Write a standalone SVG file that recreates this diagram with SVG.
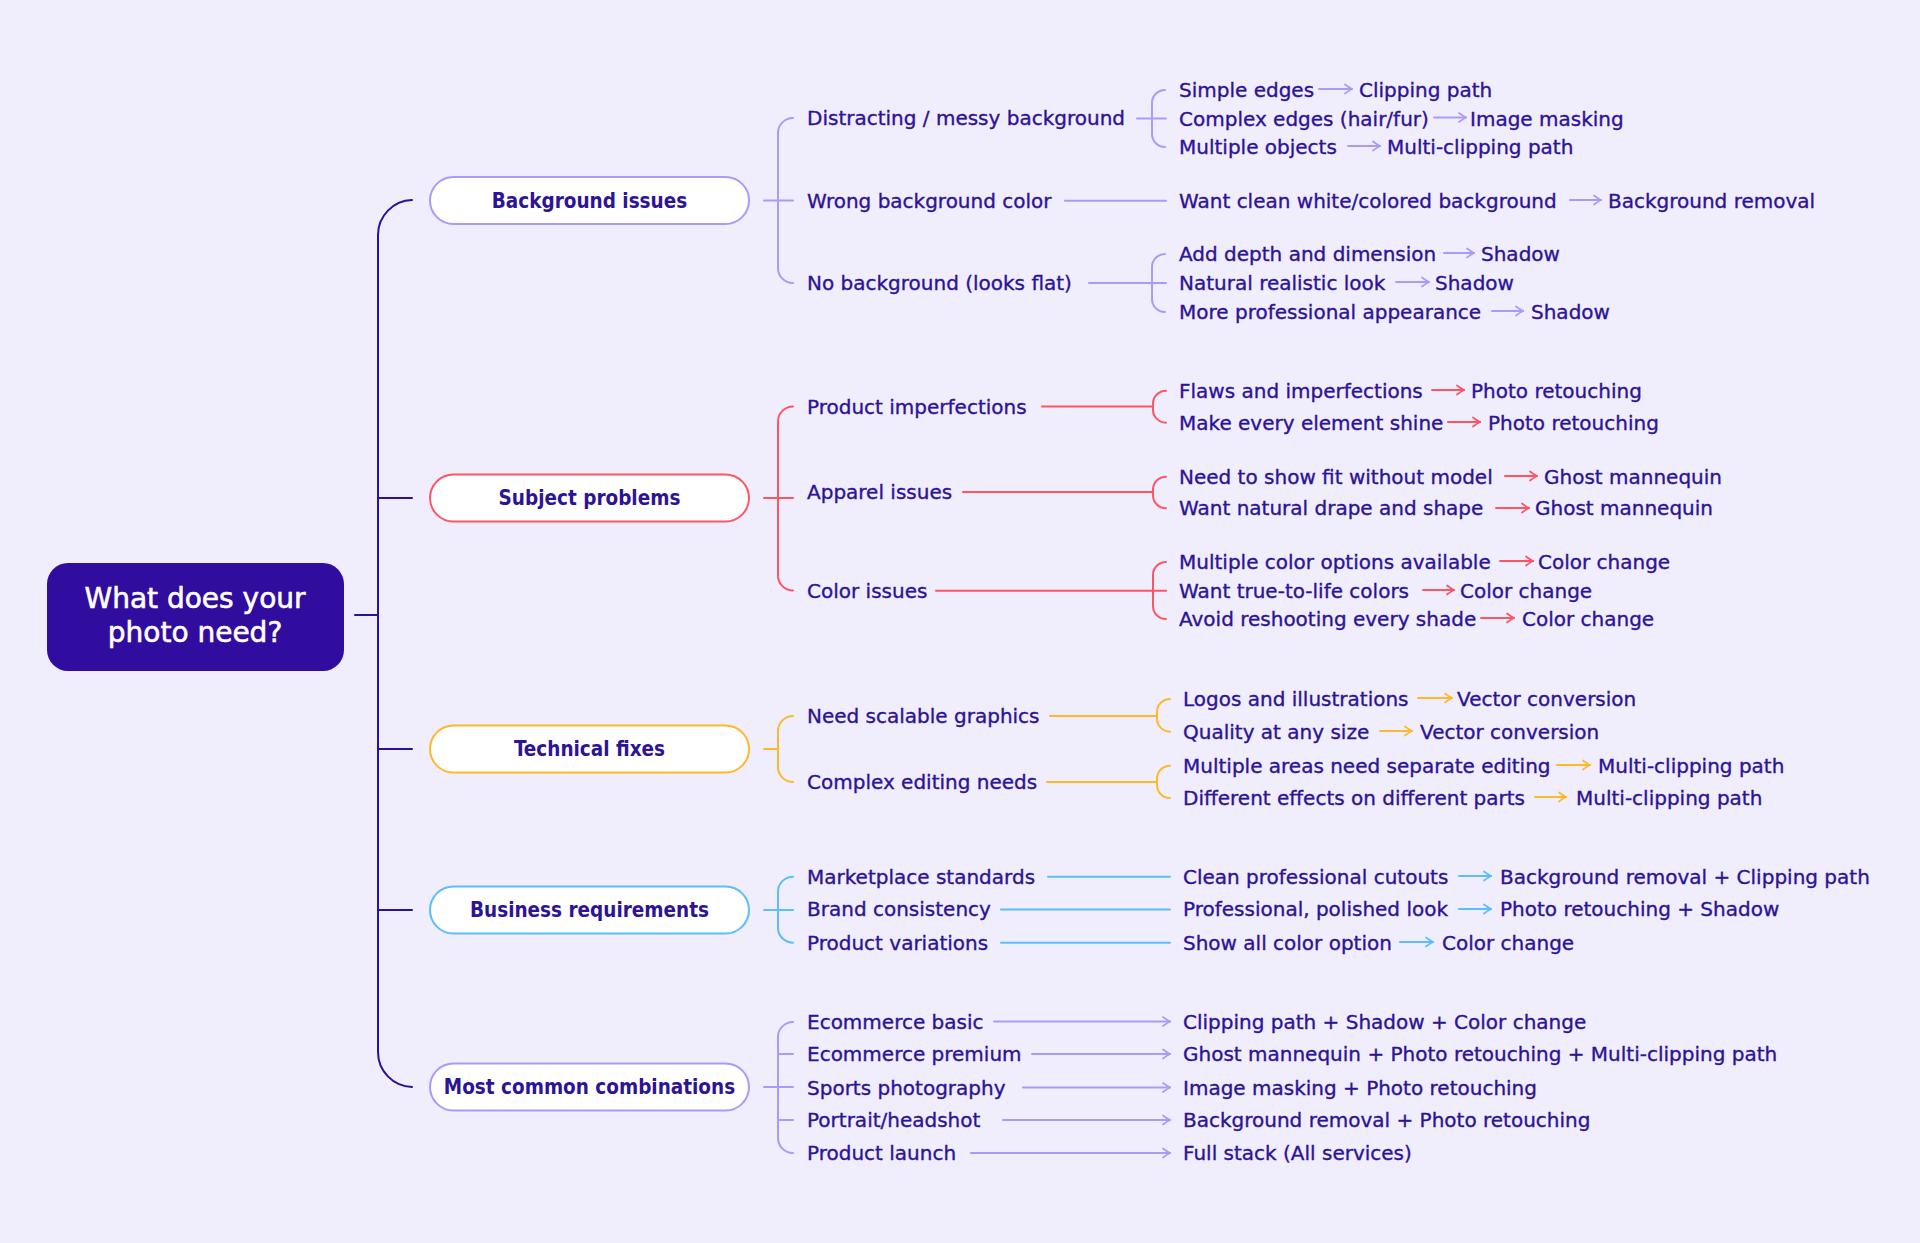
<svg xmlns="http://www.w3.org/2000/svg" width="1920" height="1243" viewBox="0 0 1920 1243">
<style>
.t{font-family:"DejaVu Sans","Liberation Sans",sans-serif;font-size:20px;fill:#2D1396;stroke:#2D1396;stroke-width:0.35}
.n{font-family:"DejaVu Sans Condensed","DejaVu Sans","Liberation Sans",sans-serif;font-size:20.5px;font-weight:bold;fill:#2D1396;text-anchor:middle}
.r{font-family:"DejaVu Sans","Liberation Sans",sans-serif;font-size:28px;fill:#FFFFFF;text-anchor:middle;stroke:#FFFFFF;stroke-width:0.6}
.c{fill:none;stroke-width:2;stroke-linecap:round}
.lav{stroke:#A99BF7}.red{stroke:#FF5462}.yel{stroke:#FDB92B}.blu{stroke:#5CBEF8}.dk{stroke:#2E0F99}
.pill{fill:#FFFFFF;stroke-width:2}
.al{marker-end:url(#ah-lav)}.ar{marker-end:url(#ah-red)}.ay{marker-end:url(#ah-yel)}.ab{marker-end:url(#ah-blu)}
</style>
<defs>
<marker id="ah-lav" viewBox="0 0 10 12" refX="9" refY="6" markerWidth="10" markerHeight="12" markerUnits="userSpaceOnUse" orient="auto"><path d="M2,1.5 Q6,4.5 9,6 Q6,7.5 2,10.5" fill="none" stroke="#A99BF7" stroke-width="1.7" stroke-linecap="round"/></marker>
<marker id="ah-red" viewBox="0 0 10 12" refX="9" refY="6" markerWidth="10" markerHeight="12" markerUnits="userSpaceOnUse" orient="auto"><path d="M2,1.5 Q6,4.5 9,6 Q6,7.5 2,10.5" fill="none" stroke="#FF5462" stroke-width="1.7" stroke-linecap="round"/></marker>
<marker id="ah-yel" viewBox="0 0 10 12" refX="9" refY="6" markerWidth="10" markerHeight="12" markerUnits="userSpaceOnUse" orient="auto"><path d="M2,1.5 Q6,4.5 9,6 Q6,7.5 2,10.5" fill="none" stroke="#FDB92B" stroke-width="1.7" stroke-linecap="round"/></marker>
<marker id="ah-blu" viewBox="0 0 10 12" refX="9" refY="6" markerWidth="10" markerHeight="12" markerUnits="userSpaceOnUse" orient="auto"><path d="M2,1.5 Q6,4.5 9,6 Q6,7.5 2,10.5" fill="none" stroke="#5CBEF8" stroke-width="1.7" stroke-linecap="round"/></marker>
</defs>
<rect x="0" y="0" width="1920" height="1243" fill="#F0EDFD"/>

<g id="connectors">
  <!-- trunk -->
  <path class="c dk" d="M355,615 H378"/>
  <path class="c dk" d="M412,200 A35,35 0 0 0 378,235 V1052 A35,35 0 0 0 412,1087"/>
  <path class="c dk" d="M378,498 H412 M378,749 H412 M378,910 H412"/>

  <!-- background issues -->
  <path class="c lav" d="M764,200.5 H793"/>
  <path class="c lav" d="M793,118 A15,15 0 0 0 778,133 V268 A15,15 0 0 0 793,283"/>
  <path class="c lav" d="M1137,118.5 H1166"/>
  <path class="c lav" d="M1165,90 A13,13 0 0 0 1152,103 V134 A13,13 0 0 0 1165,147"/>
  <path class="c lav" d="M1065,200.7 H1166"/>
  <path class="c lav" d="M1089,283 H1166"/>
  <path class="c lav" d="M1165,254 A13,13 0 0 0 1152,267 V299 A13,13 0 0 0 1165,312"/>
  <path class="c lav al" d="M1319,89 H1352"/>
  <path class="c lav al" d="M1434,117.5 H1466"/>
  <path class="c lav al" d="M1348,146 H1380"/>
  <path class="c lav al" d="M1570,200 H1601"/>
  <path class="c lav al" d="M1444,253 H1474"/>
  <path class="c lav al" d="M1396,282 H1429"/>
  <path class="c lav al" d="M1492,311 H1523"/>

  <!-- subject problems -->
  <path class="c red" d="M764,498 H793"/>
  <path class="c red" d="M793,406.5 A15,15 0 0 0 778,421.5 V575.5 A15,15 0 0 0 793,590.5"/>
  <path class="c red" d="M1042,406.5 H1152"/>
  <path class="c red" d="M1166,390.7 A13,13 0 0 0 1153,403.7 V409.7 A13,13 0 0 0 1166,422.7"/>
  <path class="c red" d="M963,492 H1152"/>
  <path class="c red" d="M1166,476.7 A13,13 0 0 0 1153,489.7 V495.3 A13,13 0 0 0 1166,508.3"/>
  <path class="c red" d="M936,590.7 H1166"/>
  <path class="c red" d="M1166,562 A13,13 0 0 0 1153,575 V606 A13,13 0 0 0 1166,619"/>
  <path class="c red ar" d="M1432,390 H1464"/>
  <path class="c red ar" d="M1448,422 H1480"/>
  <path class="c red ar" d="M1505,476 H1537"/>
  <path class="c red ar" d="M1496,508 H1529"/>
  <path class="c red ar" d="M1500,561 H1533"/>
  <path class="c red ar" d="M1423,590 H1454"/>
  <path class="c red ar" d="M1481,618 H1514"/>

  <!-- technical fixes -->
  <path class="c yel" d="M764,749 H778"/>
  <path class="c yel" d="M793,716 A15,15 0 0 0 778,731 V767 A15,15 0 0 0 793,782"/>
  <path class="c yel" d="M1050,716 H1157"/>
  <path class="c yel" d="M1170,699 A13,13 0 0 0 1157,712 V718.7 A13,13 0 0 0 1170,731.7"/>
  <path class="c yel" d="M1047,782 H1157"/>
  <path class="c yel" d="M1170,765.7 A13,13 0 0 0 1157,778.7 V785 A13,13 0 0 0 1170,798"/>
  <path class="c yel ay" d="M1418,698 H1452"/>
  <path class="c yel ay" d="M1380,731 H1412"/>
  <path class="c yel ay" d="M1557,765 H1590"/>
  <path class="c yel ay" d="M1535,797 H1566"/>

  <!-- business requirements -->
  <path class="c blu" d="M764,910 H793"/>
  <path class="c blu" d="M793,876.7 A15,15 0 0 0 778,891.7 V927.7 A15,15 0 0 0 793,942.7"/>
  <path class="c blu" d="M1048,876.7 H1170 M1001,909.5 H1170 M1001,942.7 H1170"/>
  <path class="c blu ab" d="M1459,876 H1491"/>
  <path class="c blu ab" d="M1459,909 H1491"/>
  <path class="c blu ab" d="M1400,942 H1433"/>

  <!-- most common combinations -->
  <path class="c lav" d="M764,1087 H793 M778,1054 H793 M778,1120 H793"/>
  <path class="c lav" d="M793,1022 A15,15 0 0 0 778,1037 V1138 A15,15 0 0 0 793,1153"/>
  <path class="c lav al" d="M994,1021.5 H1170"/>
  <path class="c lav al" d="M1032,1054 H1170"/>
  <path class="c lav al" d="M1023,1087.5 H1170"/>
  <path class="c lav al" d="M1003,1120 H1170"/>
  <path class="c lav al" d="M971,1153 H1170"/>
</g>

<g id="root">
  <rect x="47" y="563" width="297" height="108" rx="21" fill="#300D9E"/>
  <text class="r" x="195" y="608">What does your</text>
  <text class="r" x="195" y="642">photo need?</text>
</g>

<g id="node-background-issues">
  <rect class="pill lav" x="430" y="177" width="319" height="47" rx="23.5"/>
  <text class="n" x="589.5" y="207.5">Background issues</text>
</g>
<g id="node-subject-problems">
  <rect class="pill red" x="430" y="474.5" width="319" height="47" rx="23.5"/>
  <text class="n" x="589.5" y="505.2">Subject problems</text>
</g>
<g id="node-technical-fixes">
  <rect class="pill yel" x="430" y="725.5" width="319" height="47" rx="23.5"/>
  <text class="n" x="589.5" y="756.2">Technical fixes</text>
</g>
<g id="node-business-requirements">
  <rect class="pill blu" x="430" y="886.5" width="319" height="47" rx="23.5"/>
  <text class="n" x="589.5" y="917.2">Business requirements</text>
</g>
<g id="node-most-common">
  <rect class="pill lav" x="430" y="1063.5" width="319" height="47" rx="23.5"/>
  <text class="n" x="589.5" y="1094.2">Most common combinations</text>
</g>

<g id="background-items">
  <text class="t" x="807" y="125">Distracting / messy background</text>
  <text class="t" x="807" y="207.7">Wrong background color</text>
  <text class="t" x="807" y="290">No background (looks flat)</text>
  <text class="t" x="1179" y="97">Simple edges</text>
  <text class="t" x="1359" y="97">Clipping path</text>
  <text class="t" x="1179" y="125.5">Complex edges (hair/fur)</text>
  <text class="t" x="1470" y="125.5">Image masking</text>
  <text class="t" x="1179" y="154">Multiple objects</text>
  <text class="t" x="1387" y="154">Multi-clipping path</text>
  <text class="t" x="1179" y="207.7">Want clean white/colored background</text>
  <text class="t" x="1608" y="207.7">Background removal</text>
  <text class="t" x="1179" y="261">Add depth and dimension</text>
  <text class="t" x="1481" y="261">Shadow</text>
  <text class="t" x="1179" y="290">Natural realistic look</text>
  <text class="t" x="1435" y="290">Shadow</text>
  <text class="t" x="1179" y="319">More professional appearance</text>
  <text class="t" x="1531" y="319">Shadow</text>
</g>

<g id="subject-items">
  <text class="t" x="807" y="413.5">Product imperfections</text>
  <text class="t" x="807" y="498.5">Apparel issues</text>
  <text class="t" x="807" y="597.5">Color issues</text>
  <text class="t" x="1179" y="397.7">Flaws and imperfections</text>
  <text class="t" x="1471" y="397.7">Photo retouching</text>
  <text class="t" x="1179" y="429.7">Make every element shine</text>
  <text class="t" x="1488" y="429.7">Photo retouching</text>
  <text class="t" x="1179" y="483.7">Need to show fit without model</text>
  <text class="t" x="1544" y="483.7">Ghost mannequin</text>
  <text class="t" x="1179" y="515.3">Want natural drape and shape</text>
  <text class="t" x="1535" y="515.3">Ghost mannequin</text>
  <text class="t" x="1179" y="569">Multiple color options available</text>
  <text class="t" x="1538" y="569">Color change</text>
  <text class="t" x="1179" y="597.7">Want true-to-life colors</text>
  <text class="t" x="1460" y="597.7">Color change</text>
  <text class="t" x="1179" y="626">Avoid reshooting every shade</text>
  <text class="t" x="1522" y="626">Color change</text>
</g>

<g id="technical-items">
  <text class="t" x="807" y="723">Need scalable graphics</text>
  <text class="t" x="807" y="789">Complex editing needs</text>
  <text class="t" x="1183" y="706">Logos and illustrations</text>
  <text class="t" x="1457" y="706">Vector conversion</text>
  <text class="t" x="1183" y="738.7">Quality at any size</text>
  <text class="t" x="1420" y="738.7">Vector conversion</text>
  <text class="t" x="1183" y="772.7">Multiple areas need separate editing</text>
  <text class="t" x="1598" y="772.7">Multi-clipping path</text>
  <text class="t" x="1183" y="805">Different effects on different parts</text>
  <text class="t" x="1576" y="805">Multi-clipping path</text>
</g>

<g id="business-items">
  <text class="t" x="807" y="883.7">Marketplace standards</text>
  <text class="t" x="807" y="916">Brand consistency</text>
  <text class="t" x="807" y="949.7">Product variations</text>
  <text class="t" x="1183" y="883.7">Clean professional cutouts</text>
  <text class="t" x="1500" y="883.7">Background removal + Clipping path</text>
  <text class="t" x="1183" y="916">Professional, polished look</text>
  <text class="t" x="1500" y="916">Photo retouching + Shadow</text>
  <text class="t" x="1183" y="949.7">Show all color option</text>
  <text class="t" x="1442" y="949.7">Color change</text>
</g>

<g id="combination-items">
  <text class="t" x="807" y="1029">Ecommerce basic</text>
  <text class="t" x="807" y="1061">Ecommerce premium</text>
  <text class="t" x="807" y="1095">Sports photography</text>
  <text class="t" x="807" y="1127">Portrait/headshot</text>
  <text class="t" x="807" y="1160">Product launch</text>
  <text class="t" x="1183" y="1029">Clipping path + Shadow + Color change</text>
  <text class="t" x="1183" y="1061">Ghost mannequin + Photo retouching + Multi-clipping path</text>
  <text class="t" x="1183" y="1095">Image masking + Photo retouching</text>
  <text class="t" x="1183" y="1127">Background removal + Photo retouching</text>
  <text class="t" x="1183" y="1160">Full stack (All services)</text>
</g>
</svg>
